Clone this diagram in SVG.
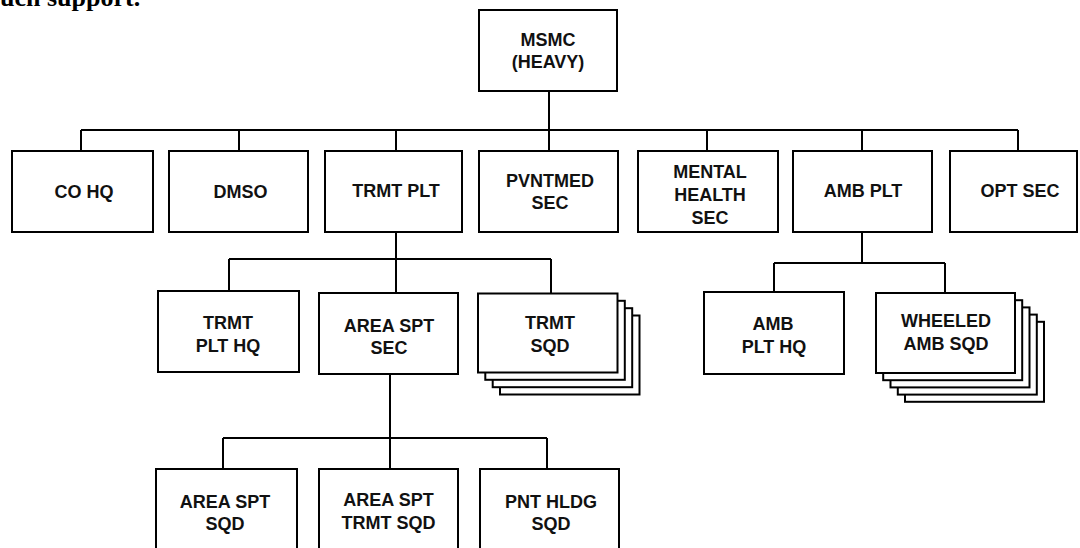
<svg xmlns="http://www.w3.org/2000/svg" width="1080" height="548" viewBox="0 0 1080 548">
<style>
.box{fill:#fff;stroke:#000;stroke-width:2}
.con{fill:none;stroke:#000;stroke-width:2}
.t{font-family:"Liberation Sans",Arial,sans-serif;font-weight:bold;font-size:18px;fill:#111;text-anchor:middle}
.cap{font-family:"Liberation Serif","Times New Roman",serif;font-weight:bold;font-size:26px;fill:#000}
</style>
<rect width="1080" height="548" fill="#fff"/>
<text class="cap" x="0" y="5.5">uch support.</text>
<g id="connectors">
<path class="con" d="M549 91V130M81 130H1018M81 130V151M239 130V151M396 130V151M549 130V151M707 130V151M862 130V151M1018 130V151"/>
<path class="con" d="M396 232V259M229 259H551M229 259V291M396 259V293M551 259V293.5"/>
<path class="con" d="M862 232V263M774 263H945M774 263V292M945 263V293"/>
<path class="con" d="M390 374V438M223 438H547M223 438V469M390 438V469M547 438V469"/>
</g>
<g id="msmc"><rect class="box" x="479" y="10" width="138" height="81"/><text class="t" x="548" y="46">MSMC</text><text class="t" x="548" y="68">(HEAVY)</text></g>
<g id="co-hq"><rect class="box" x="12" y="151" width="141" height="81"/><text class="t" x="84" y="198">CO HQ</text></g>
<g id="dmso"><rect class="box" x="169" y="151" width="139" height="81"/><text class="t" x="240.5" y="198">DMSO</text></g>
<g id="trmt-plt"><rect class="box" x="325" y="151" width="137" height="81"/><text class="t" x="396" y="197">TRMT PLT</text></g>
<g id="pvntmed-sec"><rect class="box" x="479" y="151" width="139" height="81"/><text class="t" x="550" y="187">PVNTMED</text><text class="t" x="550" y="209">SEC</text></g>
<g id="mental-health-sec"><rect class="box" x="638" y="151" width="140" height="81"/><text class="t" x="710" y="178">MENTAL</text><text class="t" x="710" y="201">HEALTH</text><text class="t" x="710" y="224">SEC</text></g>
<g id="amb-plt"><rect class="box" x="793" y="151" width="139" height="81"/><text class="t" x="863" y="197">AMB PLT</text></g>
<g id="opt-sec"><rect class="box" x="950" y="151" width="127" height="81"/><text class="t" x="1020" y="197">OPT SEC</text></g>
<g id="trmt-plt-hq"><rect class="box" x="158" y="291" width="141" height="81"/><text class="t" x="228" y="329">TRMT</text><text class="t" x="228" y="352">PLT HQ</text></g>
<g id="area-spt-sec"><rect class="box" x="319" y="293" width="139" height="81"/><text class="t" x="389" y="331.5">AREA SPT</text><text class="t" x="389" y="354">SEC</text></g>
<g id="trmt-sqd">
<rect class="box" x="500" y="315.5" width="139.5" height="79"/>
<rect class="box" x="492.7" y="308.2" width="139.5" height="79"/>
<rect class="box" x="485.3" y="300.8" width="139.5" height="79"/>
<rect class="box" x="478" y="293.5" width="139.5" height="79"/>
<text class="t" x="550" y="329">TRMT</text><text class="t" x="550" y="352">SQD</text></g>
<g id="amb-plt-hq"><rect class="box" x="704" y="292" width="140" height="82"/><text class="t" x="773" y="330">AMB</text><text class="t" x="774" y="352.5">PLT HQ</text></g>
<g id="wheeled-amb-sqd">
<rect class="box" x="905" y="321.8" width="139" height="80"/>
<rect class="box" x="897.8" y="314.6" width="139" height="80"/>
<rect class="box" x="890.5" y="307.4" width="139" height="80"/>
<rect class="box" x="883.2" y="300.2" width="139" height="80"/>
<rect class="box" x="876" y="293" width="139" height="80"/>
<text class="t" x="946" y="327">WHEELED</text><text class="t" x="946" y="350">AMB SQD</text></g>
<g id="area-spt-sqd"><rect class="box" x="156" y="469" width="141" height="82"/><text class="t" x="225" y="508">AREA SPT</text><text class="t" x="225" y="530">SQD</text></g>
<g id="area-spt-trmt-sqd"><rect class="box" x="319" y="469" width="139" height="82"/><text class="t" x="388.5" y="506">AREA SPT</text><text class="t" x="388.5" y="529">TRMT SQD</text></g>
<g id="pnt-hldg-sqd"><rect class="box" x="480" y="469" width="139" height="82"/><text class="t" x="551" y="508">PNT HLDG</text><text class="t" x="551" y="530">SQD</text></g>
</svg>
